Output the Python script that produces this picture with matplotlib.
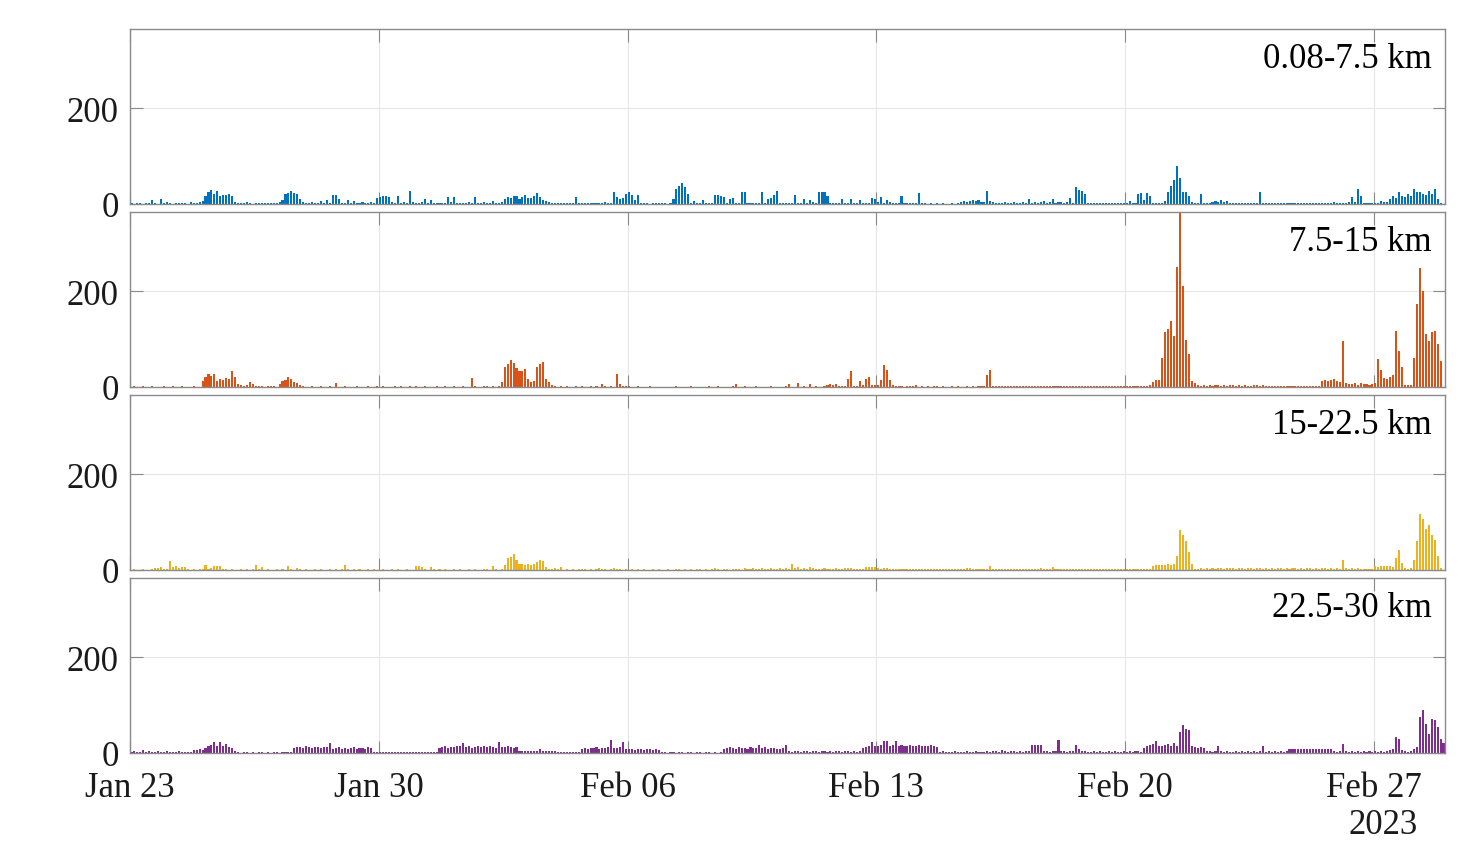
import numpy as np
import matplotlib
matplotlib.use('Agg')
from matplotlib import pyplot as plt
import matplotlib.dates as mdates
from datetime import datetime, timedelta

plt.rcParams['font.family'] = ['Liberation Serif', 'DejaVu Serif']
plt.rcParams['font.size'] = 25

# counts in 2-hour bins, one row per day starting Jan 23 2023
start = datetime(2023, 1, 23)
end = datetime(2023, 3, 1)
bin_hours = 2

labels = ['0.08-7.5 km', '7.5-15 km', '15-22.5 km', '22.5-30 km']
colors = ['#0072BD', '#D95319', '#EDB120', '#7E2F8E']

band1 = [
    [2, 1, 3, 2, 1, 2, 2, 9, 2, 1, 10, 2],
    [5, 2, 1, 3, 2, 2, 3, 1, 5, 2, 3, 4],
    [7, 17, 24, 29, 20, 28, 17, 19, 18, 21, 16, 4],
    [3, 2, 2, 5, 2, 1, 3, 2, 2, 3, 2, 3],
    [2, 3, 4, 8, 20, 23, 28, 22, 20, 10, 5, 3],
    [3, 5, 2, 3, 7, 2, 8, 3, 19, 19, 10, 3],
    [3, 8, 2, 7, 3, 2, 5, 3, 2, 5, 3, 12],
    [14, 17, 17, 15, 5, 3, 17, 3, 4, 3, 28, 4],
    [3, 2, 4, 10, 2, 9, 3, 2, 3, 2, 3, 14],
    [4, 14, 3, 2, 3, 2, 4, 3, 14, 2, 3, 5],
    [3, 2, 7, 3, 2, 5, 10, 14, 12, 16, 17, 10],
    [14, 19, 12, 13, 16, 23, 14, 9, 7, 5, 3, 3],
    [2, 3, 2, 3, 2, 3, 14, 2, 3, 2, 3, 2],
    [3, 2, 3, 2, 4, 3, 2, 26, 14, 10, 12, 21],
    [26, 19, 8, 19, 3, 2, 2, 1, 2, 2, 3, 2],
    [2, 1, 2, 10, 31, 38, 44, 36, 20, 3, 7, 2],
    [3, 8, 2, 3, 2, 19, 19, 17, 14, 3, 10, 12],
    [3, 3, 26, 26, 3, 2, 3, 3, 2, 26, 3, 10],
    [12, 19, 28, 3, 2, 3, 2, 3, 19, 2, 3, 10],
    [3, 8, 5, 3, 26, 24, 26, 17, 2, 3, 2, 3],
    [10, 3, 2, 10, 2, 3, 8, 2, 3, 2, 12, 10],
    [4, 14, 3, 8, 4, 3, 3, 3, 17, 3, 2, 3],
    [3, 2, 23, 3, 2, 1, 2, 1, 2, 1, 2, 1],
    [1, 2, 1, 2, 5, 6, 4, 7, 8, 6, 8, 4],
    [4, 27, 7, 4, 3, 2, 3, 4, 2, 3, 5, 3],
    [3, 4, 3, 10, 3, 5, 3, 4, 6, 3, 4, 10],
    [3, 4, 5, 3, 4, 12, 3, 35, 30, 28, 21, 3],
    [3, 2, 3, 2, 3, 2, 2, 3, 2, 3, 2, 3],
    [2, 7, 3, 3, 21, 22, 8, 23, 17, 3, 2, 3],
    [3, 7, 24, 38, 51, 80, 55, 24, 26, 17, 4, 3],
    [3, 21, 3, 2, 3, 4, 6, 5, 8, 5, 7, 3],
    [2, 3, 2, 3, 2, 2, 3, 2, 2, 24, 3, 2],
    [2, 3, 2, 2, 3, 2, 2, 3, 2, 2, 3, 2],
    [3, 2, 2, 3, 2, 3, 2, 3, 2, 3, 4, 3],
    [3, 2, 3, 4, 14, 5, 31, 17, 3, 2, 3, 3],
    [3, 2, 7, 4, 5, 10, 17, 12, 26, 17, 14, 21],
    [17, 31, 26, 24, 21, 18, 28, 21, 31, 10, 3, 0],
]

band2 = [
    [1, 2, 1, 0, 2, 1, 1, 2, 1, 0, 1, 2],
    [1, 0, 2, 1, 1, 2, 1, 1, 0, 2, 1, 1],
    [13, 20, 27, 22, 28, 13, 17, 15, 19, 17, 33, 20],
    [6, 4, 3, 5, 11, 6, 3, 2, 2, 1, 2, 3],
    [2, 1, 6, 13, 15, 21, 17, 10, 8, 4, 2, 1],
    [1, 2, 1, 1, 2, 1, 0, 2, 1, 8, 1, 1],
    [2, 1, 0, 1, 2, 1, 1, 0, 2, 1, 1, 2],
    [1, 2, 1, 1, 0, 2, 1, 2, 1, 0, 2, 1],
    [2, 1, 1, 2, 1, 0, 1, 2, 1, 1, 2, 1],
    [1, 2, 1, 0, 2, 1, 1, 19, 2, 1, 1, 2],
    [2, 1, 2, 1, 2, 10, 41, 48, 56, 51, 40, 34],
    [34, 37, 17, 10, 12, 41, 49, 53, 17, 10, 4, 2],
    [1, 2, 1, 2, 1, 1, 2, 1, 2, 1, 1, 2],
    [1, 2, 1, 6, 2, 1, 2, 1, 28, 6, 2, 3],
    [2, 1, 1, 2, 1, 0, 1, 2, 1, 1, 0, 1],
    [1, 0, 1, 1, 2, 1, 0, 1, 1, 2, 1, 0],
    [1, 1, 0, 2, 1, 1, 2, 1, 0, 1, 1, 2],
    [6, 1, 1, 2, 0, 1, 1, 2, 1, 0, 1, 1],
    [2, 1, 1, 0, 1, 2, 6, 1, 1, 8, 1, 2],
    [1, 6, 1, 2, 1, 1, 2, 5, 6, 5, 6, 2],
    [2, 3, 17, 33, 3, 3, 12, 4, 17, 20, 5, 5],
    [4, 15, 46, 35, 15, 5, 2, 3, 2, 1, 2, 2],
    [2, 4, 1, 2, 1, 2, 1, 2, 2, 1, 2, 1],
    [1, 2, 1, 2, 1, 1, 2, 1, 2, 1, 2, 2],
    [3, 26, 36, 3, 2, 2, 3, 2, 3, 2, 2, 3],
    [2, 3, 2, 2, 3, 2, 3, 2, 2, 3, 2, 3],
    [3, 2, 2, 3, 2, 2, 3, 2, 3, 2, 2, 3],
    [2, 2, 3, 2, 3, 2, 2, 3, 2, 2, 3, 2],
    [2, 3, 3, 2, 2, 3, 2, 3, 5, 10, 15, 15],
    [60, 115, 121, 137, 107, 250, 365, 210, 97, 69, 12, 8],
    [5, 3, 4, 3, 5, 3, 4, 5, 3, 4, 3, 5],
    [4, 3, 5, 3, 4, 3, 3, 4, 5, 3, 4, 3],
    [3, 2, 3, 3, 2, 3, 2, 3, 2, 3, 2, 3],
    [3, 2, 3, 2, 3, 2, 13, 15, 12, 14, 16, 12],
    [10, 96, 8, 6, 7, 9, 5, 8, 6, 7, 5, 6],
    [8, 58, 35, 18, 16, 20, 25, 117, 76, 41, 5, 4],
    [5, 60, 173, 248, 200, 110, 95, 114, 117, 90, 55, 0],
]

band3 = [
    [1, 2, 1, 1, 2, 1, 1, 2, 5, 5, 6, 2],
    [3, 18, 6, 8, 5, 7, 6, 2, 1, 2, 1, 2],
    [2, 10, 3, 4, 8, 8, 8, 3, 2, 1, 2, 1],
    [1, 2, 1, 2, 1, 2, 10, 2, 7, 1, 2, 1],
    [1, 2, 1, 2, 1, 9, 2, 1, 4, 2, 1, 2],
    [1, 1, 2, 1, 2, 1, 1, 2, 1, 2, 1, 2],
    [10, 2, 1, 2, 1, 2, 1, 1, 2, 1, 2, 1],
    [1, 2, 1, 1, 2, 1, 2, 1, 1, 2, 1, 1],
    [8, 8, 7, 2, 1, 7, 2, 1, 2, 1, 2, 1],
    [1, 2, 1, 2, 1, 1, 2, 1, 2, 1, 1, 2],
    [2, 1, 9, 2, 1, 2, 10, 24, 28, 34, 20, 12],
    [12, 10, 12, 10, 13, 17, 21, 18, 6, 3, 2, 4],
    [2, 6, 1, 2, 1, 2, 1, 2, 3, 2, 1, 2],
    [1, 2, 4, 3, 2, 1, 3, 4, 2, 3, 1, 2],
    [1, 2, 1, 2, 1, 2, 1, 1, 2, 1, 2, 1],
    [1, 2, 1, 1, 2, 3, 1, 2, 1, 2, 1, 3],
    [2, 1, 3, 1, 2, 4, 2, 1, 3, 2, 1, 2],
    [3, 2, 1, 4, 2, 3, 5, 2, 3, 4, 2, 3],
    [4, 3, 2, 5, 3, 4, 3, 13, 5, 6, 3, 4],
    [3, 7, 4, 3, 2, 3, 4, 3, 2, 3, 4, 3],
    [3, 4, 5, 4, 3, 2, 3, 3, 6, 7, 7, 7],
    [4, 3, 4, 4, 3, 2, 3, 2, 3, 2, 2, 3],
    [2, 3, 2, 2, 3, 2, 2, 3, 2, 3, 2, 2],
    [2, 3, 2, 3, 2, 3, 5, 5, 3, 2, 3, 2],
    [3, 2, 9, 2, 3, 2, 3, 2, 3, 2, 3, 2],
    [2, 3, 2, 3, 2, 3, 2, 5, 3, 2, 3, 6],
    [3, 2, 3, 2, 3, 2, 3, 2, 2, 3, 2, 3],
    [2, 3, 2, 2, 3, 2, 2, 3, 2, 2, 3, 2],
    [2, 3, 2, 3, 2, 3, 2, 3, 2, 9, 10, 11],
    [10, 11, 12, 10, 12, 30, 84, 72, 61, 37, 12, 3],
    [3, 4, 3, 5, 3, 4, 3, 5, 4, 3, 5, 4],
    [4, 3, 5, 4, 3, 5, 4, 3, 4, 5, 3, 4],
    [3, 4, 3, 5, 4, 3, 4, 3, 5, 4, 3, 4],
    [3, 4, 5, 3, 4, 3, 5, 4, 3, 4, 3, 5],
    [3, 21, 4, 3, 5, 3, 4, 2, 3, 2, 3, 2],
    [8, 7, 8, 8, 9, 8, 7, 25, 42, 15, 4, 3],
    [5, 20, 60, 117, 107, 86, 93, 72, 63, 30, 5, 0],
]

band4 = [
    [3, 4, 2, 3, 7, 3, 4, 2, 3, 4, 3, 2],
    [4, 3, 2, 3, 4, 2, 3, 2, 3, 7, 7, 8],
    [7, 10, 14, 16, 22, 14, 22, 15, 18, 12, 10, 4],
    [2, 1, 2, 3, 1, 2, 1, 2, 3, 1, 2, 1],
    [2, 3, 1, 2, 3, 2, 2, 10, 12, 13, 11, 14],
    [12, 10, 13, 12, 11, 13, 12, 21, 8, 10, 12, 9],
    [11, 8, 10, 12, 9, 11, 10, 8, 12, 10, 3, 2],
    [3, 2, 3, 2, 3, 2, 2, 3, 2, 3, 2, 3],
    [2, 3, 2, 3, 2, 3, 2, 3, 10, 12, 14, 11],
    [13, 12, 15, 14, 20, 12, 14, 11, 13, 15, 12, 14],
    [12, 14, 13, 11, 22, 12, 13, 14, 12, 11, 13, 5],
    [4, 5, 4, 5, 4, 5, 8, 4, 5, 4, 5, 4],
    [2, 3, 2, 2, 3, 2, 2, 3, 8, 10, 9, 11],
    [10, 12, 9, 11, 10, 12, 27, 11, 10, 12, 22, 8],
    [9, 8, 7, 9, 8, 7, 8, 9, 7, 8, 7, 2],
    [2, 1, 2, 2, 1, 2, 2, 1, 2, 2, 1, 2],
    [2, 1, 2, 2, 1, 2, 1, 2, 9, 10, 12, 11],
    [9, 12, 10, 11, 9, 12, 10, 11, 17, 10, 12, 9],
    [11, 10, 8, 9, 10, 17, 4, 3, 5, 4, 3, 5],
    [4, 3, 5, 4, 3, 4, 5, 3, 4, 3, 5, 4],
    [3, 4, 5, 3, 4, 3, 4, 10, 12, 14, 23, 15],
    [14, 16, 26, 26, 15, 17, 26, 14, 16, 15, 14, 16],
    [15, 14, 16, 15, 15, 14, 16, 15, 13, 3, 4, 3],
    [2, 3, 4, 3, 2, 3, 4, 2, 3, 4, 2, 3],
    [3, 4, 3, 4, 5, 3, 6, 4, 3, 5, 4, 3],
    [4, 3, 5, 4, 16, 16, 16, 16, 5, 4, 3, 5],
    [4, 28, 5, 4, 3, 5, 4, 16, 8, 5, 4, 3],
    [3, 4, 3, 4, 3, 3, 4, 3, 4, 3, 3, 4],
    [3, 4, 3, 5, 4, 3, 10, 14, 16, 18, 26, 15],
    [14, 16, 19, 15, 20, 14, 44, 58, 50, 47, 14, 12],
    [10, 13, 11, 5, 4, 3, 4, 14, 4, 3, 4, 3],
    [3, 4, 3, 4, 3, 4, 3, 4, 3, 4, 14, 3],
    [4, 3, 4, 3, 4, 3, 4, 8, 8, 8, 9, 8],
    [8, 9, 8, 8, 9, 8, 8, 9, 8, 8, 4, 3],
    [4, 18, 5, 3, 4, 3, 4, 3, 4, 3, 4, 3],
    [4, 3, 4, 3, 5, 6, 8, 33, 30, 6, 4, 3],
    [5, 8, 12, 75, 89, 61, 40, 71, 68, 54, 30, 20],
]

bands = [band1, band2, band3, band4]
ticks = [datetime(2023, 1, 23) + timedelta(days=7 * k) for k in range(6)]

axcol = '#8a8a8a'
W, H = 1475, 854
fig = plt.figure(figsize=(W / 100, H / 100), dpi=100)
tops = [30, 213, 396, 579]

for i, band in enumerate(bands):
    ax = fig.add_axes([130 / W, 1 - (tops[i] + 175) / H, 1315 / W, 175 / H])
    vals = np.array(band).ravel()
    t = [start + timedelta(hours=bin_hours * k + bin_hours / 2) for k in range(len(vals))]
    ax.bar(mdates.date2num(t), vals, width=bin_hours / 24 * 0.7,
           color=colors[i], linewidth=0, zorder=2)
    ax.set_xlim(mdates.date2num(start), mdates.date2num(end))
    ax.set_ylim(0, 365)
    ax.set_yticks([0, 200])
    ax.set_xticks(mdates.date2num(ticks))
    ax.xaxis.set_major_formatter(mdates.DateFormatter('%b %d'))
    ax.grid(True, color='#e6e6e6', linewidth=0.8, zorder=0)
    ax.set_axisbelow(True)
    for s in ax.spines.values():
        s.set_color(axcol)
        s.set_linewidth(1.0)
    ax.tick_params(direction='in', length=9, width=0.8, color=axcol,
                   top=True, right=True, labelcolor='#1a1a1a')
    ax.tick_params(axis='y', pad=8)
    ax.tick_params(axis='x', pad=13)
    if i < 3:
        ax.tick_params(labelbottom=False)
    ax.text(0.99, 0.925, labels[i], transform=ax.transAxes, ha='right', va='top')

fig.text(1383 / W, 1 - 826 / H, '2023', ha='center', va='center', color='#1a1a1a')

fig.savefig('out.png', dpi=100)
